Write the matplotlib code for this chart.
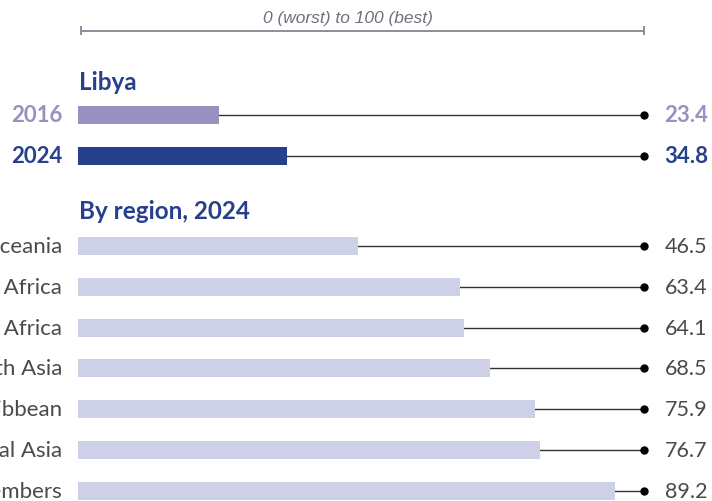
import matplotlib
matplotlib.use("Agg")
import matplotlib.pyplot as plt

# ---- data ----
country = "Libya"
years = ["2016", "2024"]
libya_values = [23.4, 34.8]
regions = ["Oceania", "Sub-Saharan Africa", "Middle East & North Africa",
           "East & South Asia", "Latin America & the Caribbean",
           "Eastern Europe & Central Asia", "OECD members"]
region_values = [46.5, 63.4, 64.1, 68.5, 75.9, 76.7, 89.2]
range_label = "0 (worst) to 100 (best)"
region_title = "By region, 2024"

# ---- style ----
W, H = 712, 502
DPI = 100
C_2016 = "#9a90c2"
C_2024 = "#27408b"
C_REG = "#cdd0e6"
C_TXT = "#4a4a4a"
C_TITLE = "#27408b"
FONT = ["Lato", "DejaVu Sans"]

X0_PX = 78          # pixel of score 0
PX_PER = 6.02       # pixels per score unit
END_PX = 644        # dot position
BAR_H = 18

fig = plt.figure(figsize=(W / DPI, H / DPI), dpi=DPI)
ax = fig.add_axes([0, 0, 1, 1])
xl = (-X0_PX / PX_PER, (W - X0_PX) / PX_PER)
ax.set_xlim(*xl)
ax.set_ylim(H, 0)
ax.axis("off")

def px2x(px):
    return xl[0] + px / W * (xl[1] - xl[0])

end_x = px2x(END_PX)
label_x = px2x(62)

# range line on top
ax.plot([px2x(81), px2x(644)], [31.5, 31.5], color="#8c8f9b", lw=1.4, solid_capstyle="butt")
for xp in (81, 644):
    ax.plot([px2x(xp), px2x(xp)], [27.5, 35], color="#8c8f9b", lw=1.4)
ax.text(px2x(348), 19, range_label, ha="center", va="center", fontsize=12.5,
        style="italic", color="#6e717d", family=["Liberation Sans", "DejaVu Sans"])

# Libya section
ax.text(px2x(79), 82, country, ha="left", va="center", fontsize=17.5,
        fontweight="bold", color=C_TITLE, family=FONT)
lib_y = [116, 157]
lib_colors = [C_2016, C_2024]
for yr, v, y, c in zip(years, libya_values, lib_y, lib_colors):
    ax.barh(y, v, height=BAR_H, left=0, color=c, zorder=2)
    ax.plot([v, end_x], [y, y], color="#333333", lw=1.0, zorder=1)
    ax.plot([end_x], [y], marker="o", ms=5, color="black", zorder=3)
    ax.text(label_x, y, yr, ha="right", va="center", fontsize=16,
            fontweight="bold", color=c, family=FONT)
    ax.text(px2x(664), y, f"{v:.1f}", ha="left", va="center", fontsize=16,
            fontweight="bold", color=c, family=FONT)

# regions section
ax.text(px2x(79), 212, region_title, ha="left", va="center", fontsize=17.5,
        fontweight="bold", color=C_TITLE, family=FONT)
y0, step = 247, 40.8
for i, (r, v) in enumerate(zip(regions, region_values)):
    y = y0 + i * step
    ax.barh(y, v, height=BAR_H, left=0, color=C_REG, zorder=2)
    ax.plot([v, end_x], [y, y], color="#333333", lw=1.0, zorder=1)
    ax.plot([end_x], [y], marker="o", ms=5, color="black", zorder=3)
    ax.text(label_x, y, r, ha="right", va="center", fontsize=16,
            color=C_TXT, family=FONT)
    ax.text(px2x(665), y, f"{v:.1f}", ha="left", va="center", fontsize=15.5,
            color=C_TXT, family=FONT)

fig.savefig("out.png", dpi=DPI)
